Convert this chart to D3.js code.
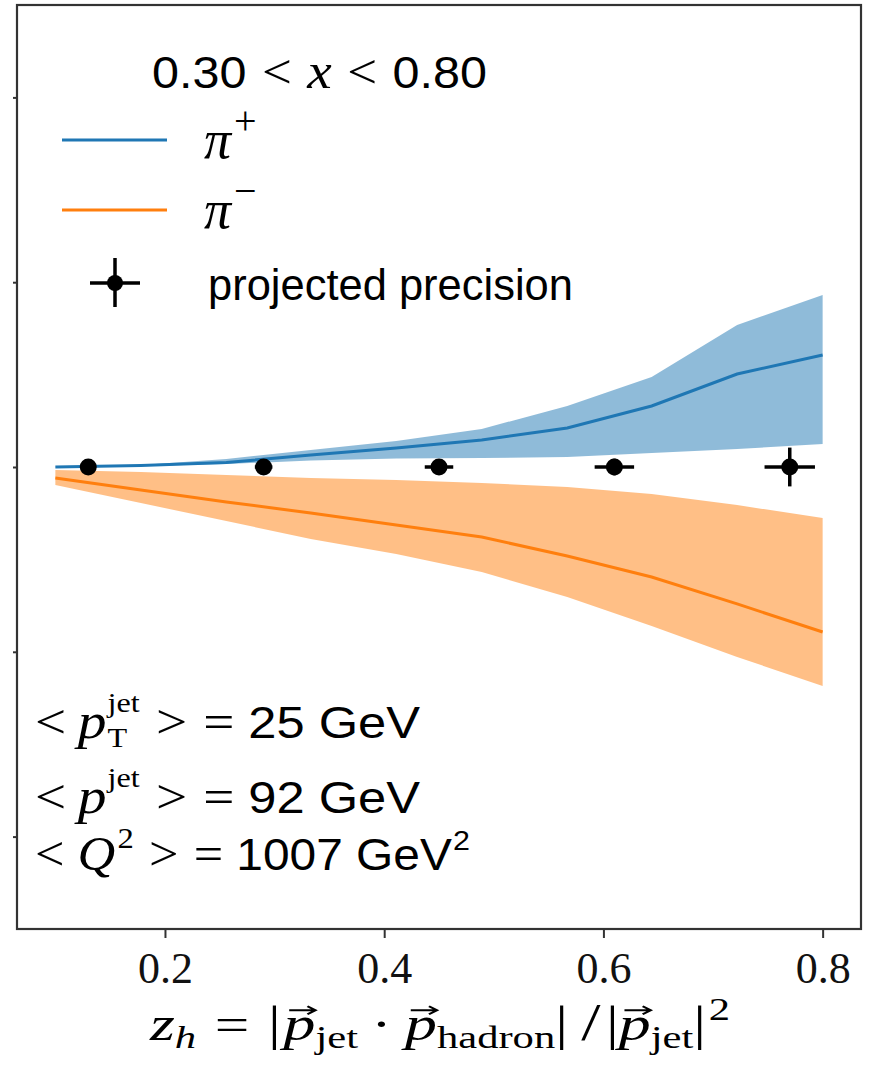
<!DOCTYPE html>
<html><head><meta charset="utf-8">
<script src="https://cdn.jsdelivr.net/npm/d3@7"></script>
<style>body{margin:0;background:#fff} svg{display:block}</style>
</head><body>
<svg id="chart" width="874" height="1069"></svg>
<script>
// z_h grid of the theory curves
const zh = [0.1, 0.178, 0.256, 0.333, 0.411, 0.489, 0.567, 0.644, 0.722, 0.8];
// pi+ central curve and uncertainty band
const piPlus     = [0, 0.008, 0.024, 0.065, 0.103, 0.146, 0.211, 0.330, 0.503, 0.606];
const piPlusLow  = [0, 0.005, 0.016, 0.035, 0.046, 0.049, 0.054, 0.076, 0.097, 0.124];
const piPlusHigh = [0, 0.011, 0.043, 0.092, 0.141, 0.206, 0.330, 0.487, 0.768, 0.931];
// pi- central curve and uncertainty band
const piMinus     = [-0.060, -0.124, -0.189, -0.249, -0.314, -0.379, -0.482, -0.595, -0.741, -0.893];
const piMinusLow  = [-0.097, -0.195, -0.292, -0.390, -0.471, -0.568, -0.703, -0.860, -1.028, -1.185];
const piMinusHigh = [-0.016, -0.027, -0.043, -0.060, -0.070, -0.087, -0.108, -0.146, -0.206, -0.276];
// projected precision points
const pointZ      = [0.13, 0.29, 0.45, 0.61, 0.77];
const pointVal    = [0, 0, 0, 0, 0];
const pointZErr   = [0.005, 0.008, 0.013, 0.018, 0.023];
const pointValErr = [0.01, 0.02, 0.03, 0.045, 0.105];
// axis ticks
const xTicks = [0.2, 0.4, 0.6, 0.8];
const xTickLabels = ["0.2", "0.4", "0.6", "0.8"];
const yTicks = [-2, -1, 0, 1, 2];

const BLUE = "#1f77b4", ORANGE = "#ff7f0e";
const SERIF = "'Liberation Serif', 'DejaVu Serif', serif";
const SANS = "'Liberation Sans', 'DejaVu Sans', sans-serif";

const svg = d3.select("#chart");
const L = 17, R = 861, T = 5, B = 929;

const x = d3.scaleLinear().domain([0.065, 0.835]).range([L, R]);
const y = d3.scaleLinear().domain([-2.5, 2.5]).range([B, T]);

// bands and central curves
const plusRows = zh.map((z, i) => ({z, v: piPlus[i], lo: piPlusLow[i], hi: piPlusHigh[i]}));
const minusRows = zh.map((z, i) => ({z, v: piMinus[i], lo: piMinusLow[i], hi: piMinusHigh[i]}));
const area = d3.area().x(d => x(d.z)).y0(d => y(d.lo)).y1(d => y(d.hi));
const line = d3.line().x(d => x(d.z)).y(d => y(d.v));

svg.append("path").datum(plusRows).attr("d", area).attr("fill", BLUE).attr("fill-opacity", 0.5);
svg.append("path").datum(plusRows).attr("d", line).attr("fill", "none").attr("stroke", BLUE).attr("stroke-width", 3);
svg.append("path").datum(minusRows).attr("d", area).attr("fill", ORANGE).attr("fill-opacity", 0.5);
svg.append("path").datum(minusRows).attr("d", line).attr("fill", "none").attr("stroke", ORANGE).attr("stroke-width", 3);

// projected precision error bars
const pts = pointZ.map((z, i) => ({z, v: pointVal[i], ez: pointZErr[i], ev: pointValErr[i]}));
const eb = svg.append("g").attr("stroke", "#000").attr("stroke-width", 3.5);
eb.selectAll("line.h").data(pts).join("line").attr("class", "h")
  .attr("x1", d => x(d.z - d.ez)).attr("x2", d => x(d.z + d.ez))
  .attr("y1", d => y(d.v)).attr("y2", d => y(d.v));
eb.selectAll("line.v").data(pts).join("line").attr("class", "v")
  .attr("x1", d => x(d.z)).attr("x2", d => x(d.z))
  .attr("y1", d => y(d.v - d.ev)).attr("y2", d => y(d.v + d.ev));
svg.append("g").selectAll("circle").data(pts).join("circle")
  .attr("cx", d => x(d.z)).attr("cy", d => y(d.v)).attr("r", 8.5).attr("fill", "#000");

// axes
const xAxis = svg.append("g").attr("transform", `translate(0,${B})`)
  .call(d3.axisBottom(x).tickValues(xTicks).tickFormat((d, i) => xTickLabels[i]).tickSize(9).tickPadding(14));
xAxis.select(".domain").remove();
xAxis.selectAll(".tick line").attr("stroke", "#333").attr("stroke-width", 2);
xAxis.selectAll(".tick text").attr("font-family", SERIF).attr("font-size", 44).attr("fill", "#111");

const yAxis = svg.append("g").attr("transform", `translate(${L},0)`)
  .call(d3.axisLeft(y).tickValues(yTicks).tickFormat("").tickSize(4));
yAxis.select(".domain").remove();
yAxis.selectAll(".tick line").attr("stroke", "#333").attr("stroke-width", 2);

svg.append("rect").attr("x", L).attr("y", T).attr("width", R - L).attr("height", B - T)
  .attr("fill", "none").attr("stroke", "#333").attr("stroke-width", 2.2);

// sequential math-style text layout
function mathText(x0, y0, parts, targetWidth) {
  const g = svg.append("g");
  let cx = x0, lastStart = x0;
  parts.forEach(p => {
    if (p.gap) cx += p.gap;
    const sx = p.under ? lastStart : cx;
    const t = g.append("text").attr("x", sx).attr("y", y0 + (p.dy || 0))
      .attr("font-family", p.ff || SERIF).attr("font-style", p.it ? "italic" : "normal")
      .attr("font-size", p.fs || 44).attr("fill", "#000").text(p.t);
    const w = t.node().getComputedTextLength();
    if (p.under) cx = Math.max(cx, sx + w); else { lastStart = sx; cx = sx + w; }
    if (p.arrow) {
      const ay = y0 - (p.fs || 44) * 0.62;
      const ax1 = sx + w * 0.18, ax2 = sx + w * 1.0;
      g.append("path").attr("d", `M${ax1},${ay}H${ax2}M${ax2 - 6},${ay - 4}L${ax2},${ay}L${ax2 - 6},${ay + 4}`)
        .attr("fill", "none").attr("stroke", "#000").attr("stroke-width", 2);
    }
  });
  const width = cx - x0;
  if (targetWidth) {
    const k = targetWidth / width;
    g.attr("transform", `translate(${x0},0) scale(${k},1) translate(${-x0},0)`);
  }
  return g;
}

// title
mathText(152, 88, [
  {t: "0.30", ff: SANS, fs: 44},
  {t: "<", gap: 14, fs: 48},
  {t: "x", it: true, gap: 14, fs: 50},
  {t: "<", gap: 14, fs: 48},
  {t: "0.80", ff: SANS, gap: 14, fs: 44}
], 335);

// legend
const leg = svg.append("g");
leg.append("line").attr("x1", 62).attr("x2", 167).attr("y1", 140).attr("y2", 140).attr("stroke", BLUE).attr("stroke-width", 3);
leg.append("line").attr("x1", 62).attr("x2", 167).attr("y1", 210).attr("y2", 210).attr("stroke", ORANGE).attr("stroke-width", 3);
mathText(204, 158, [{t: "π", it: true, fs: 54}, {t: "+", fs: 40, dy: -24, gap: 3}]);
mathText(204, 228, [{t: "π", it: true, fs: 54}, {t: "−", fs: 40, dy: -24, gap: 3}]);
leg.append("line").attr("x1", 90).attr("x2", 140).attr("y1", 283).attr("y2", 283).attr("stroke", "#000").attr("stroke-width", 3.5);
leg.append("line").attr("x1", 115).attr("x2", 115).attr("y1", 258).attr("y2", 307).attr("stroke", "#000").attr("stroke-width", 3.5);
leg.append("circle").attr("cx", 115).attr("cy", 283).attr("r", 8).attr("fill", "#000");
mathText(208, 300, [{t: "projected precision", ff: SANS, fs: 44}], 365);

// kinematics annotations
mathText(35, 738, [
  {t: "<", fs: 48}, {t: "p", it: true, fs: 50, gap: 10},
  {t: "jet", fs: 28, dy: -26, gap: 1}, {t: "T", fs: 28, dy: 9, under: true},
  {t: ">", fs: 48, gap: 14}, {t: "=", fs: 48, gap: 14}, {t: "25 GeV", ff: SANS, fs: 44, gap: 12}
], 385);
mathText(35, 813, [
  {t: "<", fs: 48}, {t: "p", it: true, fs: 50, gap: 10},
  {t: "jet", fs: 28, dy: -26, gap: 1},
  {t: ">", fs: 48, gap: 14}, {t: "=", fs: 48, gap: 14}, {t: "92 GeV", ff: SANS, fs: 44, gap: 12}
], 385);
mathText(35, 870, [
  {t: "<", fs: 48}, {t: "Q", it: true, fs: 48, gap: 12}, {t: "2", fs: 30, dy: -22, gap: 2},
  {t: ">", fs: 48, gap: 14}, {t: "=", fs: 48, gap: 14}, {t: "1007 GeV", ff: SANS, fs: 44, gap: 12},
  {t: "2", ff: SANS, fs: 28, dy: -20, gap: 1}
], 435);

// x-axis label
mathText(150, 1040, [
  {t: "z", it: true, fs: 48}, {t: "h", it: true, fs: 32, dy: 8},
  {t: "=", fs: 46, gap: 14}, {t: "|", fs: 48, gap: 14},
  {t: "p", it: true, fs: 48, arrow: true, gap: 2}, {t: "jet", fs: 32, dy: 8},
  {t: "·", fs: 46, gap: 10}, {t: "p", it: true, fs: 48, arrow: true, gap: 10},
  {t: "hadron", fs: 32, dy: 8}, {t: "|", fs: 48},
  {t: "/", fs: 52, gap: 10}, {t: "|", fs: 48, gap: 4},
  {t: "p", it: true, fs: 48, arrow: true}, {t: "jet", fs: 32, dy: 8},
  {t: "|", fs: 48}, {t: "2", fs: 32, dy: -20, gap: 2}
], 580);
</script>
</body></html>
